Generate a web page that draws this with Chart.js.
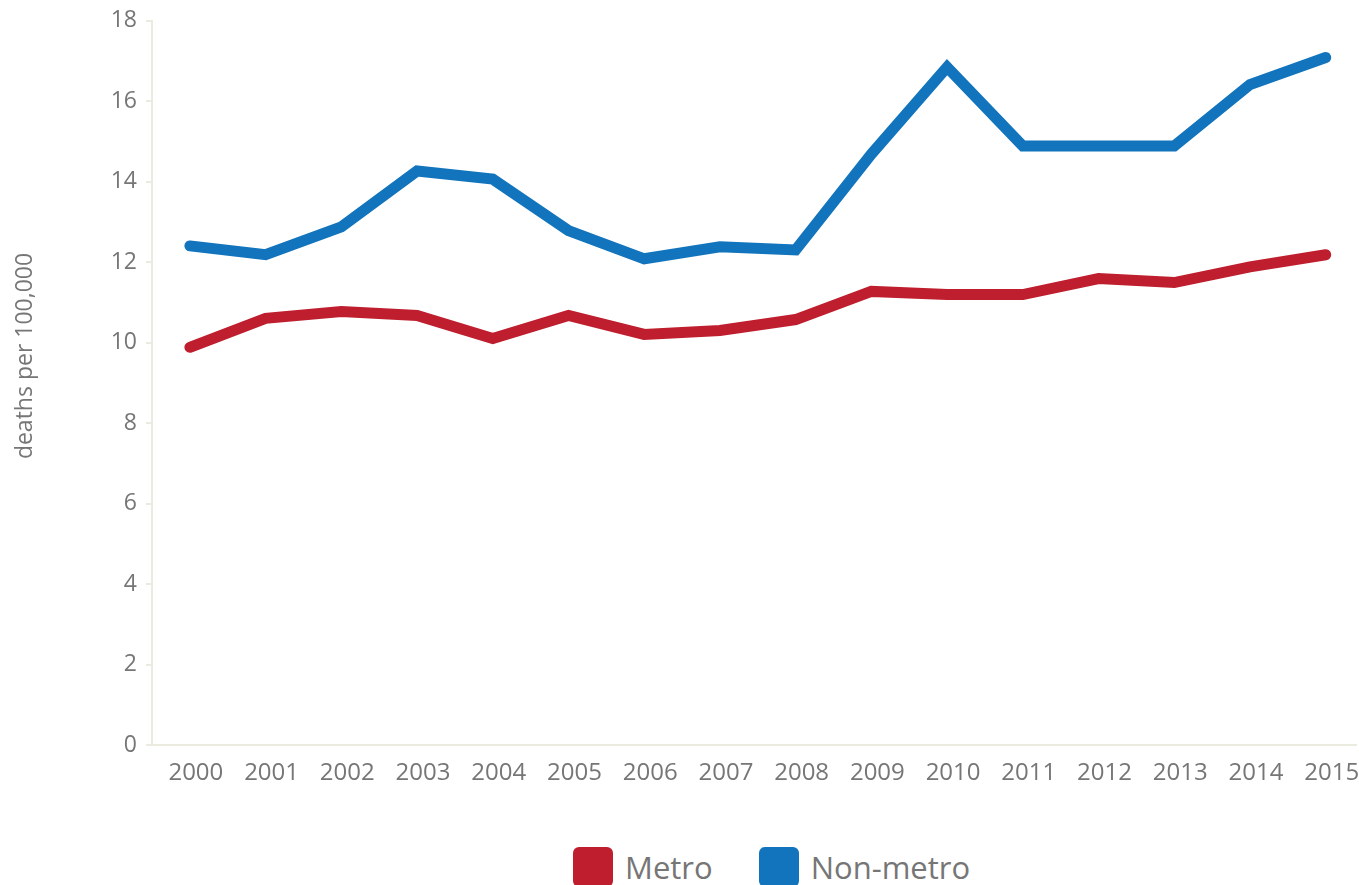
<!DOCTYPE html>
<html>
<head>
<meta charset="utf-8">
<script src="https://cdn.jsdelivr.net/npm/chart.js@4.4.1/dist/chart.umd.min.js"></script>
<style>
  body { margin: 0; background: #fff; overflow: hidden; }
  #wrap { position: relative; width: 1359px; height: 885px; }
  #legend { position: absolute; left: 573px; top: 847px; display: flex; align-items: flex-start;
            font-family: "Open Sans", sans-serif; font-size: 31px; color: #767676; line-height: 40px; }
  .item { display: flex; align-items: flex-start; margin-right: 46px; }
  .box { width: 40px; height: 40px; border-radius: 6px; margin-right: 12px; }
</style>
</head>
<body>
<div id="wrap">
  <canvas id="chart" width="1359" height="810"></canvas>
  <div id="legend"></div>
</div>
<script>
// data
var years = [2000, 2001, 2002, 2003, 2004, 2005, 2006, 2007, 2008, 2009, 2010, 2011, 2012, 2013, 2014, 2015];
var metro = [9.88, 10.6, 10.77, 10.67, 10.1, 10.67, 10.2, 10.3, 10.57, 11.27, 11.19, 11.19, 11.59, 11.49, 11.88, 12.18];
var nonMetro = [12.4, 12.18, 12.87, 14.26, 14.06, 12.78, 12.08, 12.38, 12.3, 14.68, 16.84, 14.88, 14.88, 14.88, 16.41, 17.08];
var yTicks = [0, 2, 4, 6, 8, 10, 12, 14, 16, 18];

var seriesNames = ["Metro", "Non-metro"];
var seriesColors = ["#be1e2d", "#1174bc"];
var yTitle = "deaths per 100,000";

var grey = "#767676";
var axisColor = "#ecebe0";

function toPoints(vals) {
  return vals.map(function (v, i) { return { x: years[i], y: v }; });
}

// y title sits a bit above the middle of the axis in the original
var yTitlePlugin = {
  id: "yTitle",
  afterDraw: function (chart) {
    var c = chart.ctx;
    c.save();
    c.translate(25, 356);
    c.rotate(-Math.PI / 2);
    c.font = "23px 'Open Sans'";
    c.fillStyle = grey;
    c.textAlign = "center";
    c.textBaseline = "middle";
    c.fillText(yTitle, 0, 0);
    c.restore();
  },
};

var ctx = document.getElementById("chart").getContext("2d");
new Chart(ctx, {
  type: "line",
  data: {
    datasets: [
      {
        label: seriesNames[0],
        data: toPoints(metro),
        borderColor: seriesColors[0],
        backgroundColor: seriesColors[0],
        borderWidth: 11,
        borderCapStyle: "round",
        borderJoinStyle: "miter",
        pointRadius: 0,
        tension: 0,
      },
      {
        label: seriesNames[1],
        data: toPoints(nonMetro),
        borderColor: seriesColors[1],
        backgroundColor: seriesColors[1],
        borderWidth: 11,
        borderCapStyle: "round",
        borderJoinStyle: "miter",
        pointRadius: 0,
        tension: 0,
      },
    ],
  },
  plugins: [yTitlePlugin],
  options: {
    responsive: false,
    animation: false,
    layout: { padding: { top: 18, right: 3, left: 8, bottom: 0 } },
    plugins: {
      legend: { display: false },
      tooltip: { enabled: false },
    },
    scales: {
      x: {
        type: "linear",
        min: years[0] - 0.5,
        max: years[years.length - 1] + 0.4,
        afterFit: function (scale) { scale.height = 65; },
        afterBuildTicks: function (scale) {
          scale.ticks = years.map(function (y) { return { value: y }; });
        },
        grid: { display: true, drawOnChartArea: false, drawTicks: true, tickLength: 14, color: "rgba(0,0,0,0)" },
        border: { display: true, color: axisColor, width: 2 },
        ticks: {
          autoSkip: false,
          maxRotation: 0,
          padding: 0,
          labelOffset: 6,
          color: grey,
          font: { family: "Open Sans", size: 24 },
          callback: function (v) { return String(v); },
        },
      },
      y: {
        min: 0,
        max: 18,
        afterFit: function (scale) { scale.width = 144; },
        afterBuildTicks: function (scale) {
          scale.ticks = yTicks.map(function (v) { return { value: v }; });
        },
        grid: { display: true, drawOnChartArea: false, drawTicks: true, tickLength: 6, color: axisColor, lineWidth: 2 },
        border: { display: true, color: axisColor, width: 2 },
        ticks: {
          padding: 9,
          color: grey,
          font: { family: "Open Sans", size: 23, lineHeight: 1 },
        },
      },
    },
  },
});

// legend below the chart
var legend = document.getElementById("legend");
seriesNames.forEach(function (name, i) {
  var item = document.createElement("div");
  item.className = "item";
  var box = document.createElement("div");
  box.className = "box";
  box.style.background = seriesColors[i];
  var txt = document.createElement("span");
  txt.textContent = name;
  item.appendChild(box);
  item.appendChild(txt);
  legend.appendChild(item);
});
</script>
</body>
</html>
